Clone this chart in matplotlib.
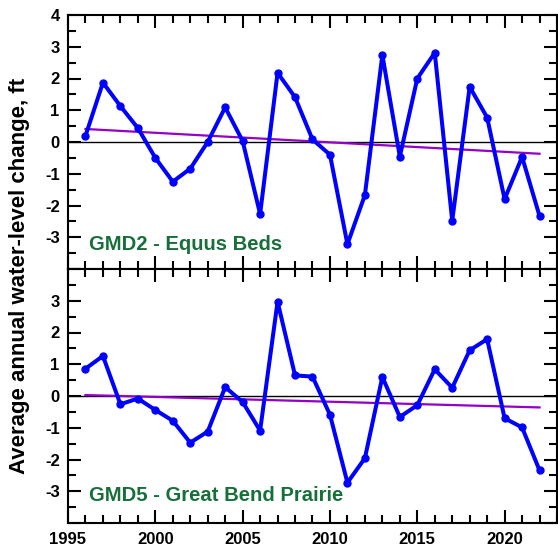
import matplotlib.pyplot as plt
from matplotlib.ticker import MultipleLocator, FuncFormatter

plt.rcParams['font.family'] = ['Liberation Sans', 'DejaVu Sans']
plt.rcParams['font.weight'] = 'bold'
plt.rcParams['axes.unicode_minus'] = False

years = list(range(1996, 2023))

# average annual water-level change, ft
gmd2_change = [0.19, 1.87, 1.13, 0.44, -0.50, -1.25, -0.84, 0.00, 1.09, 0.03,
               -2.27, 2.18, 1.41, 0.08, -0.40, -3.22, -1.67, 2.74, -0.46, 2.00,
               2.81, -2.48, 1.74, 0.77, -1.80, -0.47, -2.33]
gmd5_change = [0.86, 1.26, -0.26, -0.08, -0.44, -0.78, -1.47, -1.12, 0.28, -0.19,
               -1.09, 2.97, 0.65, 0.61, -0.59, -2.73, -1.96, 0.60, -0.66, -0.29,
               0.84, 0.26, 1.44, 1.79, -0.70, -0.99, -2.34]

# linear trend end points (1996, 2022)
trend_years = [1996, 2022]
gmd2_trend = [0.41, -0.37]
gmd5_trend = [0.03, -0.36]

panels = [
    ("GMD2 - Equus Beds", gmd2_change, gmd2_trend, -3.24, [-4]),
    ("GMD5 - Great Bend Prairie", gmd5_change, gmd5_trend, -3.12, [-4, 4]),
]

fig = plt.figure(figsize=(5.58, 5.50), dpi=100)
ax_top = fig.add_axes([68 / 558, 1 - 269 / 550, 489 / 558, 254 / 550])
ax_bot = fig.add_axes([68 / 558, 1 - 523 / 550, 489 / 558, 254 / 550])

for ax, (name, values, trend, label_y, hidden) in zip([ax_top, ax_bot], panels):
    ax.axhline(0, color='black', lw=1.0, zorder=1)
    ax.plot(trend_years, trend, color='#9400c8', lw=1.6, zorder=2)
    ax.plot(years, values, color='#0000ff', lw=2.9, marker='o', ms=5, zorder=3)
    ax.text(1996.2, label_y, name, color='#17703a', fontsize=14.6,
            fontweight='bold', va='center', ha='left')

    ax.set_xlim(1995, 2023)
    ax.set_ylim(-4, 4)
    ax.xaxis.set_major_locator(MultipleLocator(5))
    ax.xaxis.set_minor_locator(MultipleLocator(1))
    ax.yaxis.set_major_locator(MultipleLocator(1))
    ax.yaxis.set_minor_locator(MultipleLocator(0.5))
    # outer labels are dropped where the two panels meet
    ax.yaxis.set_major_formatter(
        FuncFormatter(lambda v, p, h=hidden: '' if round(v) in h else f'{v:.0f}'))
    ax.tick_params(which='both', direction='in', top=True, right=True,
                   width=1.5, labelsize=12)
    ax.tick_params(which='major', length=9.5, pad=6)
    ax.tick_params(which='minor', length=5.5)
    for s in ax.spines.values():
        s.set_linewidth(1.5)

ax_top.tick_params(labelbottom=False)
ax_bot.tick_params(axis='x', pad=6.5)

fig.text(20 / 558, 1 - 276 / 550, 'Average annual water-level change, ft',
         rotation=90, ha='center', va='center', fontsize=16, fontweight='bold')

fig.savefig('out.png', dpi=100)
